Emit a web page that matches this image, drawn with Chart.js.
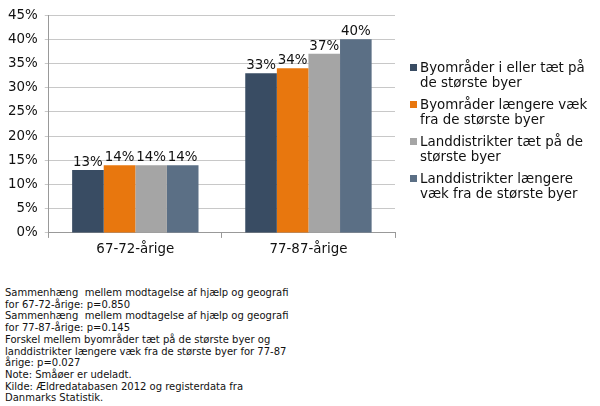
<!DOCTYPE html>
<html>
<head>
<meta charset="utf-8">
<script src="https://cdn.jsdelivr.net/npm/chart.js@4.4.0/dist/chart.umd.min.js"></script>
<style>
body { margin:0; background:#fff; font-family:"DejaVu Sans", Verdana, sans-serif; color:#111; }
#wrap { position:relative; width:600px; height:406px; }
#chartbox { position:absolute; left:0; top:0; width:600px; height:262px; }
#legend { position:absolute; left:410px; top:60px; width:190px; font-size:13.4px; line-height:15px; }
.item { position:relative; padding-left:10px; margin-bottom:7px; }
.item span.box { position:absolute; left:0; top:4px; width:7px; height:7px; }
#note { position:absolute; left:5px; top:287px; font-size:10px; line-height:11.7px; white-space:pre; }
</style>
</head>
<body>
<div id="wrap">
  <div id="chartbox"><canvas id="canvas"></canvas></div>
  <div id="legend"></div>
  <div id="note"></div>
</div>
<script>
var categories = ['67-72-årige', '77-87-årige']
var seriesNames = [
    ['Byområder i eller tæt på', 'de største byer'],
    ['Byområder længere væk', 'fra de største byer'],
    ['Landdistrikter tæt på de', 'største byer'],
    ['Landdistrikter længere', 'væk fra de største byer']
]
var byNear = [13, 33]      // Byområder i eller tæt på de største byer
var byFar = [14, 34]       // Byområder længere væk fra de største byer
var landNear = [14, 37]    // Landdistrikter tæt på de største byer
var landFar = [14, 40]     // Landdistrikter længere væk fra de største byer
var colors = ['#394c63', '#e8770e', '#a5a5a5', '#5b6f85']
var yTicks = [0, 5, 10, 15, 20, 25, 30, 35, 40, 45]
var notes = [
    'Sammenhæng  mellem modtagelse af hjælp og geografi',
    'for 67-72-årige: p=0.850',
    'Sammenhæng  mellem modtagelse af hjælp og geografi',
    'for 77-87-årige: p=0.145',
    'Forskel mellem byområder tæt på de største byer og',
    'landdistrikter længere væk fra de største byer for 77-87',
    'årige: p=0.027',
    'Note: Småøer er udeladt.',
    'Kilde: Ældredatabasen 2012 og registerdata fra',
    'Danmarks Statistik.'
]

Chart.defaults.font.family = '"DejaVu Sans", Verdana, sans-serif'
Chart.defaults.font.size = 13.4
Chart.defaults.color = '#111'

// labels on top of bars
var barLabels = {
    id: 'barLabels',
    afterDatasetsDraw: function(chart){
        var ctx = chart.ctx
        ctx.save()
        ctx.font = '13.4px "DejaVu Sans", Verdana, sans-serif'
        ctx.fillStyle = '#111'
        ctx.textAlign = 'center'
        ctx.textBaseline = 'bottom'
        chart.data.datasets.forEach(function(ds, i){
            chart.getDatasetMeta(i).data.forEach(function(bar, j){
                ctx.fillText(ds.data[j] + '%', bar.x, bar.y - 1)
            })
        })
        ctx.restore()
    }
}

var data = [byNear, byFar, landNear, landFar]
var config = {
    type: 'bar',
    data: {
        labels: categories,
        datasets: data.map(function(d, i){
            return {
                label: seriesNames[i].join(' '),
                data: d,
                backgroundColor: colors[i],
                borderWidth: 0,
                categoryPercentage: 0.73,
                barPercentage: 1.0
            }
        })
    },
    options: {
        responsive: true,
        maintainAspectRatio: false,
        animation: false,
        layout: { padding: { left: 1, right: 205, top: 6, bottom: 0 } },
        plugins: { legend: { display: false }, tooltip: { enabled: false } },
        scales: {
            x: {
                grid: { display: true, drawOnChartArea: false, offset: true, tickLength: 5, color: '#999' },
                border: { color: '#999' },
                ticks: { padding: 4 }
            },
            y: {
                min: 0, max: 45,
                afterBuildTicks: function(axis){ axis.ticks = yTicks.map(function(v){ return { value: v } }) },
                grid: { color: '#c8c8c8', tickLength: 4 },
                border: { color: '#999' },
                ticks: { padding: 7, callback: function(v){ return v + '%' } }
            }
        }
    },
    plugins: [barLabels]
}

var ctx = document.getElementById('canvas').getContext('2d')
var mychart = new Chart(ctx, config)

// legend
var lg = document.getElementById('legend')
seriesNames.forEach(function(n, i){
    var div = document.createElement('div')
    div.className = 'item'
    div.innerHTML = '<span class="box" style="background:' + colors[i] + '"></span>' + n.join('<br>')
    lg.appendChild(div)
})
document.getElementById('note').textContent = notes.join('\n')
</script>
</body>
</html>
